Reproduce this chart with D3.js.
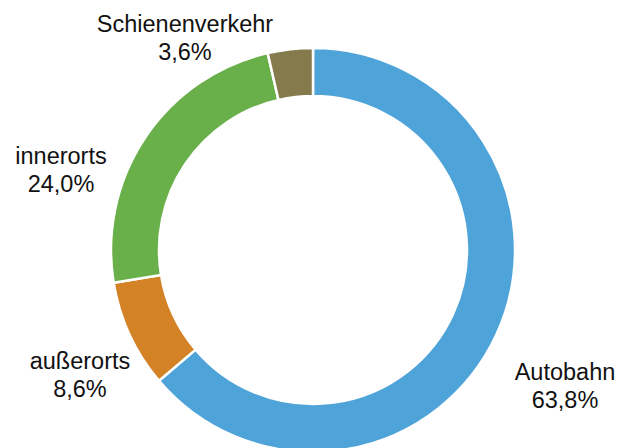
<!DOCTYPE html>
<html>
<head>
<meta charset="utf-8">
<script src="https://cdn.jsdelivr.net/npm/d3@7"></script>
<style>
  body { margin: 0; background: #fff; }
  svg text { font-family: 'Liberation Sans', Arial, sans-serif; fill: #111; }
</style>
</head>
<body>
<div id="chart"></div>
<script>
// share of noise-affected people by source
const categories = ['Autobahn', 'außerorts', 'innerorts', 'Schienenverkehr']
const values = [63.8, 8.6, 24.0, 3.6]
const colors = ['#4ea3d9', '#d38225', '#6ab04a', '#857a4b']

// label anchor points (x centre, first baseline), set by hand like the original
const labelPos = [[565, 380], [80, 369], [61, 164], [185, 32]]

const width = 620, height = 448
const cx = 313, cy = 250
const outerR = 202, innerR = 154

const svg = d3.select('#chart').append('svg')
  .attr('width', width)
  .attr('height', height)

const pie = d3.pie().sort(null).value(d => d.value)
const arc = d3.arc().innerRadius(innerR).outerRadius(outerR)

const data = categories.map((c, i) => ({ name: c, value: values[i], color: colors[i] }))

const g = svg.append('g').attr('transform', `translate(${cx},${cy})`)

g.selectAll('path')
  .data(pie(data))
  .enter().append('path')
    .attr('d', arc)
    .attr('fill', d => d.data.color)
    .attr('stroke', '#fff')
    .attr('stroke-width', 2.5)

const fmt = v => d3.format('.1f')(v).replace('.', ',') + '%'

const labels = svg.selectAll('text.label')
  .data(data)
  .enter().append('text')
    .attr('class', 'label')
    .attr('text-anchor', 'middle')
    .attr('font-size', 23.5)

labels.append('tspan')
  .attr('x', (d, i) => labelPos[i][0])
  .attr('y', (d, i) => labelPos[i][1])
  .text(d => d.name)

labels.append('tspan')
  .attr('x', (d, i) => labelPos[i][0])
  .attr('y', (d, i) => labelPos[i][1] + 28)
  .text(d => fmt(d.value))
</script>
</body>
</html>
